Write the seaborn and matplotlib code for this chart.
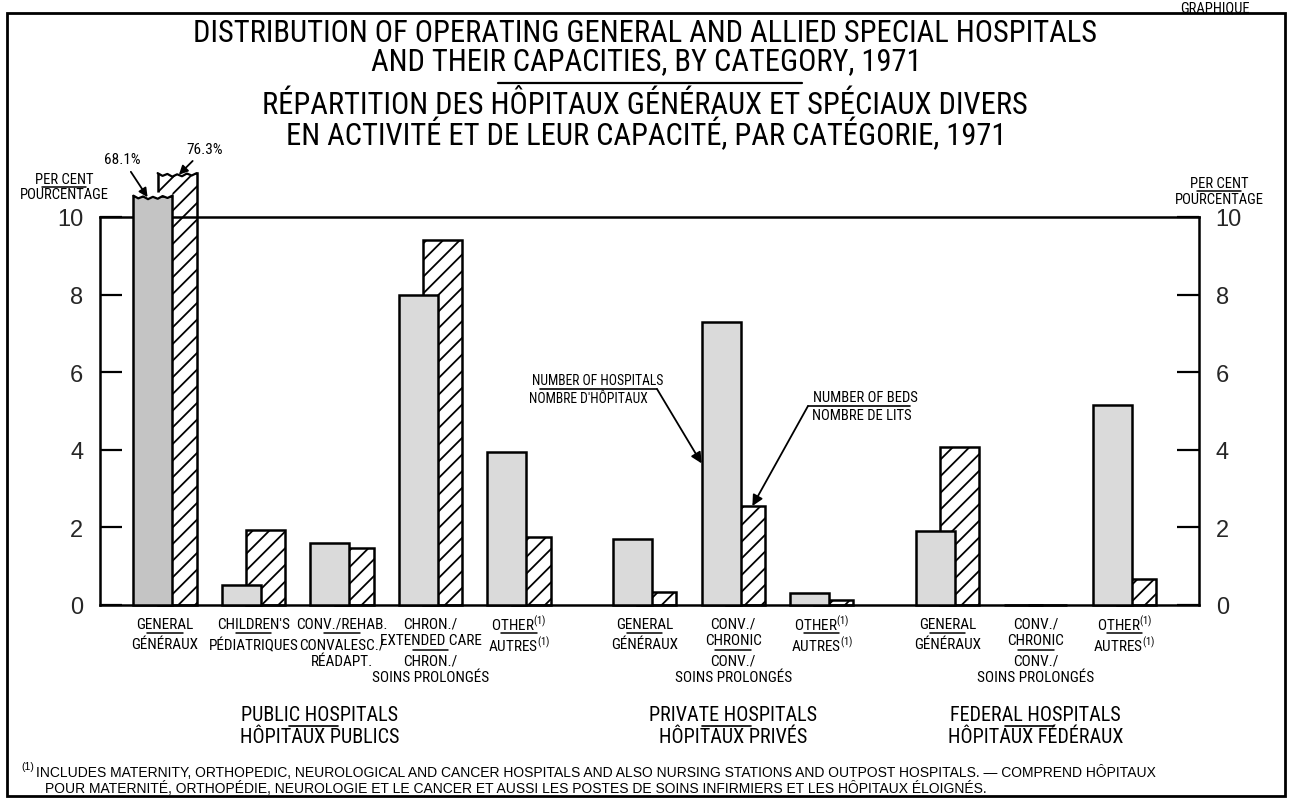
import numpy as np
import pandas as pd
import matplotlib
matplotlib.use("Agg")
import matplotlib.pyplot as plt
import seaborn as sns
from matplotlib import font_manager as fm
from matplotlib.lines import Line2D
from matplotlib.patches import Rectangle
from matplotlib.transforms import blended_transform_factory

# ---------------- data ----------------
cat_en = ["GENERAL", "CHILDREN'S", "CONV./REHAB.", "CHRON./\nEXTENDED CARE", "OTHER$^{(1)}$",
          "GENERAL", "CONV./\nCHRONIC", "OTHER$^{(1)}$",
          "GENERAL", "CONV./\nCHRONIC", "OTHER$^{(1)}$"]
cat_fr = ["GÉNÉRAUX", "PÉDIATRIQUES", "CONVALESC./\nRÉADAPT.", "CHRON./\nSOINS PROLONGÉS", "AUTRES$^{(1)}$",
          "GÉNÉRAUX", "CONV./\nSOINS PROLONGÉS", "AUTRES$^{(1)}$",
          "GÉNÉRAUX", "CONV./\nSOINS PROLONGÉS", "AUTRES$^{(1)}$"]
hospitals_pct = [68.1, 0.52, 1.60, 8.00, 3.95, 1.71, 7.30, 0.30, 1.90, 0.0, 5.15]
beds_pct = [76.3, 1.94, 1.48, 9.42, 1.74, 0.34, 2.55, 0.12, 4.08, 0.0, 0.67]
group_en = ["PUBLIC HOSPITALS", "PRIVATE HOSPITALS", "FEDERAL HOSPITALS"]
group_fr = ["HÔPITAUX PUBLICS", "HÔPITAUX PRIVÉS", "HÔPITAUX FÉDÉRAUX"]
group_sizes = [5, 3, 3]
y_ticks = [0, 2, 4, 6, 8, 10]

title_lines = ["DISTRIBUTION OF OPERATING GENERAL AND ALLIED SPECIAL HOSPITALS",
               "AND THEIR CAPACITIES, BY CATEGORY, 1971",
               "RÉPARTITION DES HÔPITAUX GÉNÉRAUX ET SPÉCIAUX DIVERS",
               "EN ACTIVITÉ ET DE LEUR CAPACITÉ, PAR CATÉGORIE, 1971"]
footnote_mark = "(1)"
footnote_lines = ["INCLUDES MATERNITY, ORTHOPEDIC, NEUROLOGICAL AND CANCER HOSPITALS AND ALSO NURSING STATIONS AND OUTPOST HOSPITALS. \u2014 COMPREND HÔPITAUX",
                  "POUR MATERNITÉ, ORTHOPÉDIE, NEUROLOGIE ET LE CANCER ET AUSSI LES POSTES DE SOINS INFIRMIERS ET LES HÔPITAUX ÉLOIGNÉS."]

# ---------------- style / layout ----------------
W, H = 1290, 803
AX_L, AX_R, AX_B, AX_T = 100, 1199, 606, 218
SLOT_PX, FIRST_PX = 88.5, 165
GROUP_GAP = 0.42
BAR_W = 0.44
BAR_OFF = 0.137
HOSP_BREAK, BEDS_BREAK = 10.55, 11.13
HOSP_COLOR, HOSP_DARK = "#dadada", "#c4c4c4"


def pick(names):
    for n in names:
        try:
            fm.findfont(fm.FontProperties(family=n), fallback_to_default=False)
            return n
        except Exception:
            pass
    return "DejaVu Sans"


sns.set_theme(style="white")
NARROW = pick(["Liberation Sans Narrow", "Roboto Condensed", "Liberation Sans"])
REG = pick(["Liberation Sans", "DejaVu Sans"])
plt.rcParams["font.family"] = [NARROW, "DejaVu Sans"]
plt.rcParams["mathtext.fontset"] = "custom"
plt.rcParams["mathtext.rm"] = NARROW
plt.rcParams["mathtext.it"] = NARROW
plt.rcParams["mathtext.bf"] = NARROW
plt.rcParams["hatch.linewidth"] = 1.3
plt.rcParams["text.color"] = "black"

fig = plt.figure(figsize=(W / 100, H / 100), dpi=100)
ax = fig.add_axes([AX_L / W, 1 - AX_B / H, (AX_R - AX_L) / W, (AX_B - AX_T) / H])

positions = []
x = 0.0
for n in group_sizes:
    for k in range(n):
        positions.append(x)
        x += 1
    x += GROUP_GAP
positions = np.array(positions)

hosp_disp = np.minimum(hospitals_pct, HOSP_BREAK)
beds_disp = np.minimum(beds_pct, BEDS_BREAK)

df_h = pd.DataFrame({"x": positions - BAR_OFF, "pct": hosp_disp})
df_b = pd.DataFrame({"x": positions + BAR_OFF, "pct": beds_disp})

sns.barplot(data=df_h, x="x", y="pct", native_scale=True, width=BAR_W, color=HOSP_COLOR,
            saturation=1, edgecolor="black", linewidth=1.8, errorbar=None, ax=ax)
hosp_bars = ax.containers[-1]
sns.barplot(data=df_b, x="x", y="pct", native_scale=True, width=BAR_W, color="white",
            saturation=1, edgecolor="black", linewidth=1.8, errorbar=None, ax=ax)
beds_bars = ax.containers[-1]

for p in hosp_bars.patches:
    p.set_clip_on(False)
    p.set_zorder(3)
hosp_bars.patches[0].set_facecolor(HOSP_DARK)
for p in beds_bars.patches:
    p.set_clip_on(False)
    p.set_hatch("//")
    p.set_zorder(2.5)

ax.set_xlim((AX_L - FIRST_PX) / SLOT_PX, (AX_R - FIRST_PX) / SLOT_PX)
ax.set_ylim(0, 10)
ax.set_xticks([])
ax.set_xlabel("")
ax.set_ylabel("")
ax.set_yticks(y_ticks)
ax.set_yticklabels([str(t) for t in y_ticks])
ax.tick_params(axis="y", direction="in", length=16, width=1.6, color="black",
               left=True, right=True, labelleft=True, labelright=True,
               labelsize=17, pad=12)
for lab in ax.get_yticklabels():
    lab.set_family(REG)
for s in ax.spines.values():
    s.set_visible(True)
    s.set_color("black")
    s.set_linewidth(1.8)
ax.set_facecolor("white")

# broken (jagged) tops for values beyond the scale
JAG = np.array([0.0, -0.07, -0.02, -0.09, -0.03, -0.08, -0.01, -0.06, 0.0])
for cont, vals, cap in [(hosp_bars, hospitals_pct, HOSP_BREAK), (beds_bars, beds_pct, BEDS_BREAK)]:
    for p, v in zip(cont.patches, vals):
        if v > cap:
            x0, w, h = p.get_x(), p.get_width(), p.get_height()
            xs = np.linspace(x0, x0 + w, len(JAG))
            ys = h + JAG
            poly_x = np.concatenate([xs, [x0 + w, x0]])
            poly_y = np.concatenate([ys, [h + 0.08, h + 0.08]])
            ax.fill(poly_x, poly_y, facecolor="white", edgecolor="none",
                    zorder=p.get_zorder() + 0.1, clip_on=False)
            ax.plot(xs, ys, color="black", lw=1.6, zorder=p.get_zorder() + 0.2,
                    clip_on=False, solid_capstyle="round")

arrow_kw = dict(arrowstyle="-|>", color="black", lw=1.3, mutation_scale=13, shrinkA=2, shrinkB=0)
# value labels for broken bars
ax.annotate(f"{hospitals_pct[0]}%", xy=(positions[0] - BAR_OFF - 0.06, hosp_disp[0] - 0.04),
            xytext=(-25, 38), textcoords="offset pixels", ha="center", va="center",
            fontsize=11, arrowprops=arrow_kw, annotation_clip=False, zorder=6)
ax.annotate(f"{beds_pct[0]}%", xy=(positions[0] + BAR_OFF + 0.02, beds_disp[0] - 0.04),
            xytext=(26, 26), textcoords="offset pixels", ha="center", va="center",
            fontsize=11, arrowprops=arrow_kw, annotation_clip=False, zorder=6)


def fy(py):
    return 1 - py / H


def ftext(px, py, s, **kw):
    kw.setdefault("ha", "center")
    kw.setdefault("va", "center")
    return fig.text(px / W, fy(py), s, **kw)


def fline(x0, x1, py, lw=1.3):
    fig.add_artist(Line2D([x0 / W, x1 / W], [fy(py), fy(py)], transform=fig.transFigure,
                          color="black", lw=lw))


xt = blended_transform_factory(ax.transData, fig.transFigure)

# category labels
CAT_FS = 11
STEP = 16.5
for i, p in enumerate(positions):
    y = 625
    for s in cat_en[i].split("\n"):
        ax.text(p, fy(y), s, transform=xt, ha="center", va="center", fontsize=CAT_FS, clip_on=False)
        y += STEP
    y_ul = y - STEP / 2 + 1
    ax.add_line(Line2D([p - 0.2, p + 0.2], [fy(y_ul)] * 2, transform=xt, color="black", lw=1.1, clip_on=False))
    y += 4
    for s in cat_fr[i].split("\n"):
        ax.text(p, fy(y), s, transform=xt, ha="center", va="center", fontsize=CAT_FS, clip_on=False)
        y += STEP

# group labels
start = 0
for g, n in enumerate(group_sizes):
    c = positions[start:start + n].mean()
    if n == 5:
        c = c - 0.25
    start += n
    ax.text(c, fy(716), group_en[g], transform=xt, ha="center", va="center", fontsize=14.5, clip_on=False)
    ax.text(c, fy(738), group_fr[g], transform=xt, ha="center", va="center", fontsize=14.5, clip_on=False)
    ax.add_line(Line2D([c - 0.35, c + 0.2], [fy(727)] * 2, transform=xt, color="black", lw=1.2, clip_on=False))

# per cent labels
for cx, y1, y2 in [(64, 180, 195), (1219, 184, 200)]:
    ftext(cx, y1, "PER CENT", fontsize=10.5)
    ftext(cx, y2, "POURCENTAGE", fontsize=10.5)
    fline(cx - 22, cx + 22, (y1 + y2) / 2, lw=1.1)

# legend annotations
ftext(598, 381, "NUMBER OF HOSPITALS", fontsize=9.8)
ftext(588, 399, "NOMBRE D'HÔPITAUX", fontsize=9.8)
fline(540, 657, 390, lw=1.2)
ax.annotate("", xy=(positions[6] - BAR_OFF - BAR_W / 2, hosp_disp[6] * 0.5),
            xytext=(657, H - 390), textcoords="figure pixels",
            arrowprops=dict(arrowstyle="-|>", color="black", lw=1.3, mutation_scale=16,
                            shrinkA=0, shrinkB=0), annotation_clip=False, zorder=6)
ftext(865, 398, "NUMBER OF BEDS", fontsize=10.5)
ftext(862, 416, "NOMBRE DE LITS", fontsize=10.5)
fline(808, 910, 407, lw=1.2)
ax.annotate("", xy=(positions[6] + BAR_OFF + 0.08, beds_disp[6]),
            xytext=(808, H - 407), textcoords="figure pixels",
            arrowprops=dict(arrowstyle="-|>", color="black", lw=1.3, mutation_scale=16,
                            shrinkA=0, shrinkB=0), annotation_clip=False, zorder=6)

# titles (fit first line to its width, reuse size)
renderer = fig.canvas.get_renderer()


def fit(t, target_px):
    bb = t.get_window_extent(renderer=renderer)
    t.set_fontsize(t.get_fontsize() * target_px / bb.width)
    return t.get_fontsize()


t1 = ftext(645, 33, title_lines[0], fontsize=18)
tfs = fit(t1, 904)
ftext(646, 62, title_lines[1], fontsize=tfs)
ftext(645, 105, title_lines[2], fontsize=tfs)
ftext(646, 134, title_lines[3], fontsize=tfs)
fline(498, 802, 84, lw=1.6)

# footnote
ftext(21, 767, footnote_mark, fontsize=7.5, ha="left", family=REG)
f1 = ftext(36, 773, footnote_lines[0], fontsize=9, ha="left", family=REG)
ffs = min(fit(f1, 1178), 10)
f1.set_fontsize(ffs)
ftext(45, 789, footnote_lines[1], fontsize=ffs, ha="left", family=REG)

# frame and top label
fig.add_artist(Rectangle((7 / W, 1 - 797 / H), (1285 - 7) / W, (797 - 14) / H,
                         transform=fig.transFigure, fill=False, edgecolor="black", lw=2))
ftext(1215, 1, "GRAPHIQUE", fontsize=10.5, va="top")

fig.savefig("out.png", dpi=100, facecolor="white")
